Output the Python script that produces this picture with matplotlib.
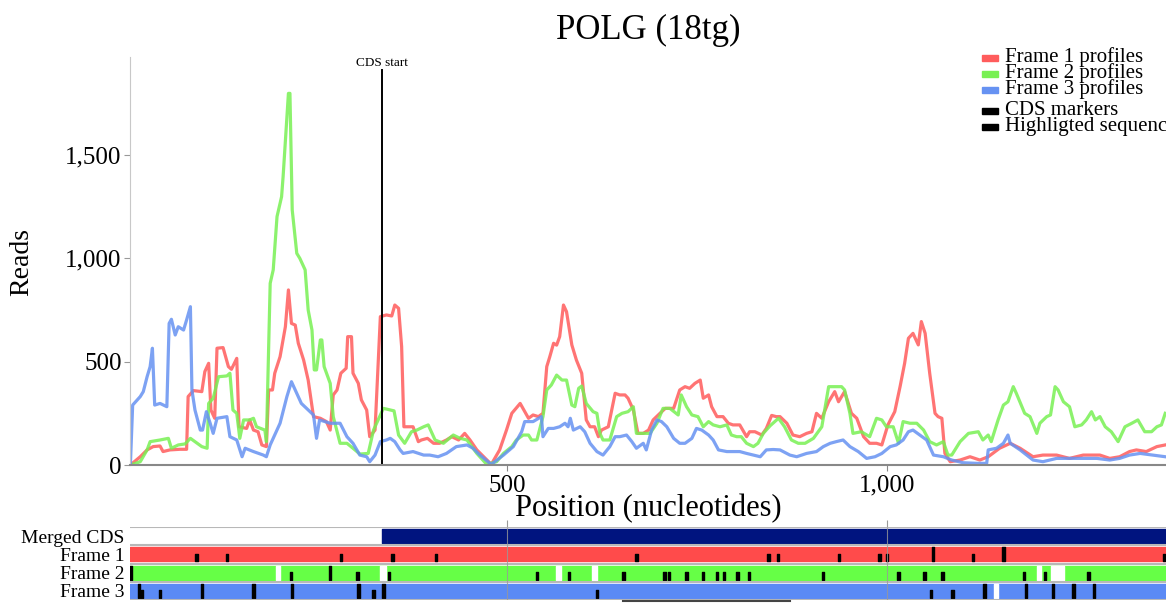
import matplotlib.pyplot as plt
from matplotlib.patches import Rectangle
from matplotlib.ticker import FuncFormatter

plt.rcParams['font.family'] = ['Liberation Serif', 'DejaVu Serif']

title = "POLG (18tg)"
cds_start = 335
seq_start, seq_end = 3.5, 1367
highlight = (652, 872)

# profiles per frame (position, reads)
f1_pos = [4, 17, 26, 34, 43, 47, 56, 69, 78, 80, 87, 98, 102, 107, 110, 115, 118, 126, 133, 137, 144, 147,
          157, 161, 166, 172, 177, 183, 186, 191, 194, 201, 208, 212, 216, 221, 225, 232, 238, 245, 254, 262,
          267, 271, 276, 281, 288, 290, 295, 297, 304, 308, 315, 319, 326, 333, 341, 348, 352, 357, 361, 364,
          372, 376, 383, 387, 395, 403, 411, 420, 427, 436, 444, 451, 460, 469, 479, 490, 499, 506, 517, 528,
          534, 541, 547, 552, 556, 561, 565, 569, 574, 578, 585, 591, 598, 604, 609, 615, 620, 624, 633, 642,
          648, 655, 659, 666, 672, 679, 686, 692, 701, 708, 719, 727, 734, 740, 747, 754, 758, 765, 769, 776,
          784, 791, 797, 806, 815, 819, 826, 835, 841, 848, 854, 859, 868, 876, 885, 894, 901, 907, 914, 923,
          931, 936, 944, 953, 960, 969, 977, 986, 993, 1001, 1010, 1017, 1023, 1028, 1034, 1041, 1045, 1050,
          1056, 1063, 1067, 1072, 1076, 1083, 1096, 1109, 1122, 1133, 1148, 1162, 1175, 1192, 1205, 1223,
          1240, 1258, 1280, 1293, 1306, 1319, 1328, 1341, 1355, 1366]
f1_val = [0, 40, 73, 89, 92, 65, 73, 76, 76, 331, 360, 355, 452, 492, 266, 226, 565, 568, 476, 463, 516, 185,
          177, 218, 169, 161, 97, 89, 363, 363, 444, 524, 669, 847, 685, 677, 589, 508, 411, 234, 226, 210,
          169, 339, 363, 444, 468, 621, 621, 444, 395, 315, 266, 137, 169, 718, 726, 721, 774, 758, 573, 185,
          185, 185, 113, 121, 129, 105, 105, 121, 137, 121, 153, 121, 73, 40, 3, 73, 169, 250, 298, 226,
          242, 234, 250, 476, 524, 589, 580, 621, 774, 742, 581, 508, 444, 218, 185, 185, 137, 169, 185, 347,
          339, 339, 323, 266, 153, 153, 169, 218, 250, 274, 274, 363, 379, 371, 395, 411, 323, 339, 282, 234,
          234, 202, 194, 194, 137, 161, 161, 145, 177, 240, 234, 234, 202, 145, 137, 153, 161, 250, 226, 306,
          355, 306, 355, 250, 226, 137, 105, 105, 97, 194, 258, 379, 492, 613, 637, 581, 694, 637,
          444, 250, 234, 226, 56, 16, 24, 40, 24, 40, 81, 105, 81, 40, 48, 48,
          32, 48, 48, 32, 40, 65, 73, 65, 89, 97]

f2_pos = [4, 17, 26, 30, 43, 54, 58, 67, 76, 83, 89, 98, 105, 107, 113, 120, 131, 135, 139, 144, 148, 153,
          161, 166, 170, 181, 183, 188, 192, 197, 203, 205, 210, 212, 214, 217, 223, 227, 234, 238, 243, 246,
          249, 254, 256, 259, 267, 271, 280, 289, 297, 306, 317, 324, 337, 346, 351, 357, 365, 374, 381, 390,
          396, 405, 416, 429, 438, 447, 460, 473, 486, 495, 506, 512, 521, 528, 532, 539, 547, 552, 558, 565,
          572, 578, 585, 589, 594, 598, 604, 613, 618, 622, 626, 635, 644, 651, 659, 666, 670, 679, 688, 697,
          705, 714, 725, 729, 736, 743, 751, 758, 765, 771, 780, 789, 795, 802, 808, 815, 824, 830, 837, 846,
          857, 865, 874, 883, 892, 903, 914, 923, 931, 940, 944, 951, 955, 966, 977, 986, 993, 999, 1008, 1015,
          1021, 1030, 1039, 1048, 1056, 1065, 1074, 1080, 1085, 1096, 1107, 1120, 1126, 1133, 1137, 1146, 1153,
          1159, 1166, 1170, 1181, 1188, 1197, 1201, 1210, 1215, 1221, 1225, 1232, 1240, 1247, 1256, 1262, 1269,
          1274, 1280, 1287, 1295, 1304, 1313, 1322, 1330, 1339, 1348, 1355, 1361, 1366]
f2_val = [0, 16, 73, 113, 121, 129, 81, 97, 102, 129, 113, 89, 81, 298, 323, 427, 431, 444, 266, 250, 129, 218,
          218, 226, 185, 169, 113, 879, 944, 1202, 1298, 1395, 1685, 1798, 1798, 1234, 1024, 1000, 944, 750, 653, 460,
          460, 605, 605, 476, 395, 234, 105, 105, 81, 53, 56, 169, 274, 266, 262, 145, 105, 161, 169, 185,
          194, 121, 105, 145, 129, 121, 56, 3, 16, 56, 89, 121, 145, 145, 121, 121, 234, 363, 387, 435,
          411, 411, 290, 282, 371, 382, 298, 258, 250, 153, 121, 121, 234, 250, 258, 282, 153, 153, 153, 202,
          274, 274, 242, 339, 282, 242, 234, 185, 210, 194, 185, 194, 145, 137, 137, 105, 89, 105, 153, 190,
          226, 185, 121, 105, 105, 129, 185, 379, 379, 379, 363, 250, 153, 161, 137, 226, 218, 185, 185, 105,
          210, 202, 202, 169, 113, 97, 113, 48, 48, 113, 153, 161, 121, 145, 113, 218, 290,
          306, 379, 347, 250, 234, 153, 202, 234, 242, 379, 363, 306, 282, 185, 194, 218, 258,
          218, 234, 185, 161, 113, 185, 202, 218, 161, 161, 185, 194, 250]

f3_pos = [4, 7, 17, 21, 26, 30, 33, 36, 43, 52, 55, 58, 63, 67, 74, 78, 83, 85, 89, 96, 99, 104, 109, 113,
          118, 131, 135, 144, 151, 155, 166, 179, 183, 188, 201, 210, 216, 223, 229, 245, 249, 253, 267, 280,
          289, 297, 306, 315, 319, 326, 333, 341, 346, 352, 359, 363, 376, 390, 398, 409, 420, 433, 447, 455,
          464, 479, 495, 508, 519, 523, 534, 545, 547, 554, 561, 569, 576, 580, 583, 587, 596, 602, 609, 618,
          626, 635, 642, 648, 657, 664, 670, 679, 683, 690, 697, 703, 710, 719, 727, 734, 743, 749, 756, 765,
          771, 778, 789, 797, 806, 815, 824, 833, 841, 850, 859, 872, 881, 894, 907, 916, 925, 933, 942, 951,
          962, 973, 984, 993, 1004, 1012, 1021, 1028, 1034, 1043, 1052, 1061, 1074, 1085, 1100, 1118, 1131,
          1133, 1144, 1153, 1159, 1162, 1175, 1192, 1205, 1223, 1240, 1258, 1276, 1293, 1306, 1319, 1333,
          1350, 1366]
f3_val = [0, 290, 331, 355, 427, 476, 565, 290, 298, 282, 685, 705, 629, 669, 653, 702, 766, 363, 266, 169, 169,
          258, 202, 153, 226, 234, 137, 121, 40, 81, 65, 48, 40, 97, 202, 331, 403, 347, 298, 242, 129, 218,
          202, 202, 137, 105, 48, 40, 16, 48, 113, 121, 129, 113, 73, 56, 65, 48, 48, 40, 56, 89, 97, 81,
          48, 3, 48, 89, 161, 210, 210, 234, 137, 177, 177, 185, 202, 185, 226, 169, 185, 161, 105, 65,
          48, 89, 137, 137, 145, 113, 81, 105, 73, 169, 218, 210, 185, 129, 105, 105, 129, 177, 169, 145,
          121, 73, 65, 65, 65, 56, 48, 40, 73, 75, 73, 48, 40, 56, 65, 89, 105, 113, 121, 89,
          65, 32, 40, 56, 89, 97, 121, 161, 169, 145, 121, 48, 40, 24, 11, 8, 8,
          73, 81, 105, 145, 105, 73, 24, 16, 32, 32, 32, 32, 24, 32, 48, 56,
          48, 40]

# CDS markers per frame: short ticks, tall ticks, white gaps (start, width)
f1_short = [91, 131, 281, 349, 406, 670, 844, 856, 937, 990, 1000, 1113, 1364]
f1_tall = [1060, 1153]
f1_gaps = []
f2_short = [215, 303, 344, 539, 581, 653, 707, 713, 736, 758, 776, 785, 803, 818, 916, 1015, 1049, 1073,
            1180, 1208, 1265]
f2_tall = [4, 267]
f2_gaps = [(195, 6.5), (333, 7), (564, 6.3), (612, 5.8), (1197, 5.2), (1215, 17.5)]
f3_short = [19, 43, 324, 618, 1058, 1086]
f3_tall = [15, 98, 166, 217, 304, 337, 1128, 1183, 1218, 1245, 1272]
f3_gaps = [(1140, 6.2)]

track_names = ["Merged CDS", "Frame 1", "Frame 2", "Frame 3"]

line_colors = ['#ff5c5c', '#78f053', '#6692f2']
track_colors = ['#ff4b4b', '#66ff46', '#5b8af5']
navy = '#00147f'

W, H = 1166, 611
fig = plt.figure(figsize=(W / 100, H / 100), dpi=100)

# ---- main profile plot
ax = fig.add_axes([130 / W, 1 - 465 / H, 1036 / W, 408 / H])
profiles = [(f1_pos, f1_val), (f2_pos, f2_val), (f3_pos, f3_val)]
for (p, v), c in zip(profiles, line_colors):
    ax.plot(p, v, color=c, lw=2.3, alpha=0.85)

ax.set_xlim(seq_start, seq_end)
ax.set_ylim(0, 1974)
ax.set_yticks([0, 500, 1000, 1500])
ax.set_xticks([500, 1000])
fmt = FuncFormatter(lambda v, _: f"{v:,.0f}")
ax.yaxis.set_major_formatter(fmt)
ax.xaxis.set_major_formatter(fmt)
ax.tick_params(axis='y', length=4, color='#999999', labelsize=18, pad=2)
ax.tick_params(axis='x', length=4, color='#888888', labelsize=18, pad=3)
for s in ['top', 'right']:
    ax.spines[s].set_visible(False)
ax.spines['left'].set_color('#c8c8c8')
ax.spines['bottom'].set_color('#888888')
ax.spines['bottom'].set_linewidth(1.5)

ax.axvline(cds_start, ymax=(465 - 70) / 408, color='black', lw=1.4)
ax.text(cds_start, (465 - 63) / 408, "CDS start", transform=ax.get_xaxis_transform(),
        ha='center', va='center', fontsize=9.5)

fig.text(648 / W, 1 - 30 / H, title, ha='center', va='center', fontsize=25)
fig.text(22 / W, 1 - 262 / H, "Reads", rotation=90, ha='center', va='center', fontsize=20)
fig.text(648 / W, 1 - 509 / H, "Position (nucleotides)", ha='center', va='center', fontsize=22)

# ---- legend
legend_labels = ["Frame 1 profiles", "Frame 2 profiles", "Frame 3 profiles", "CDS markers",
                 "Highligted sequence"]
legend_colors = line_colors + ['black', 'black']
baselines = [62, 78, 94, 115, 131]
for lab, c, b in zip(legend_labels, legend_colors, baselines):
    fig.add_artist(Rectangle((982 / W, 1 - (b - 1) / H), 16 / W, 6 / H, color=c,
                             transform=fig.transFigure))
    fig.text(1005 / W, 1 - b / H, lab, ha='left', va='baseline', fontsize=15)

# ---- tracks
tk = fig.add_axes([130 / W, 1 - 600 / H, 1036 / W, 73 / H])
tk.set_xlim(seq_start, seq_end)
tk.set_ylim(4, 0)
pad = 2 / 18.25
hgt = 14 / 18.25

tk.broken_barh([(cds_start, seq_end - cds_start)], (pad, hgt), color=navy)
frames = [(f1_short, f1_tall, f1_gaps), (f2_short, f2_tall, f2_gaps), (f3_short, f3_tall, f3_gaps)]
for i, ((short, tall, gaps), c) in enumerate(zip(frames, track_colors), start=1):
    tk.broken_barh([(seq_start, seq_end - seq_start)], (i + pad, hgt), color=c)
    if gaps:
        tk.broken_barh(gaps, (i + pad, hgt), color='white')
    tk.broken_barh([(p - 1.5, 3) for p in short], (i + pad + hgt * 0.45, hgt * 0.55), color='black')
    tk.broken_barh([(p - 1.6, 3.2) for p in tall], (i + pad, hgt), color='black')

for y in range(5):
    tk.axhline(y, color='#b8b8b8', lw=1.5)
tk.vlines([500, 1000], 0, 4, color='#999999', lw=0.8, alpha=0.8, zorder=5)
tk.plot(highlight, [4.06, 4.06], color='#444444', lw=1.5, clip_on=False)

tk.set_xticks([500, 1000])
tk.tick_params(axis='x', top=True, bottom=False, labelbottom=False, length=5,
               color='#999999', direction='out')
tk.set_yticks([0.5, 1.5, 2.5, 3.5])
tk.set_yticklabels(track_names)
tk.tick_params(axis='y', length=0, pad=4, labelsize=14)
for s in tk.spines.values():
    s.set_visible(False)

fig.savefig("out.png", dpi=100)
